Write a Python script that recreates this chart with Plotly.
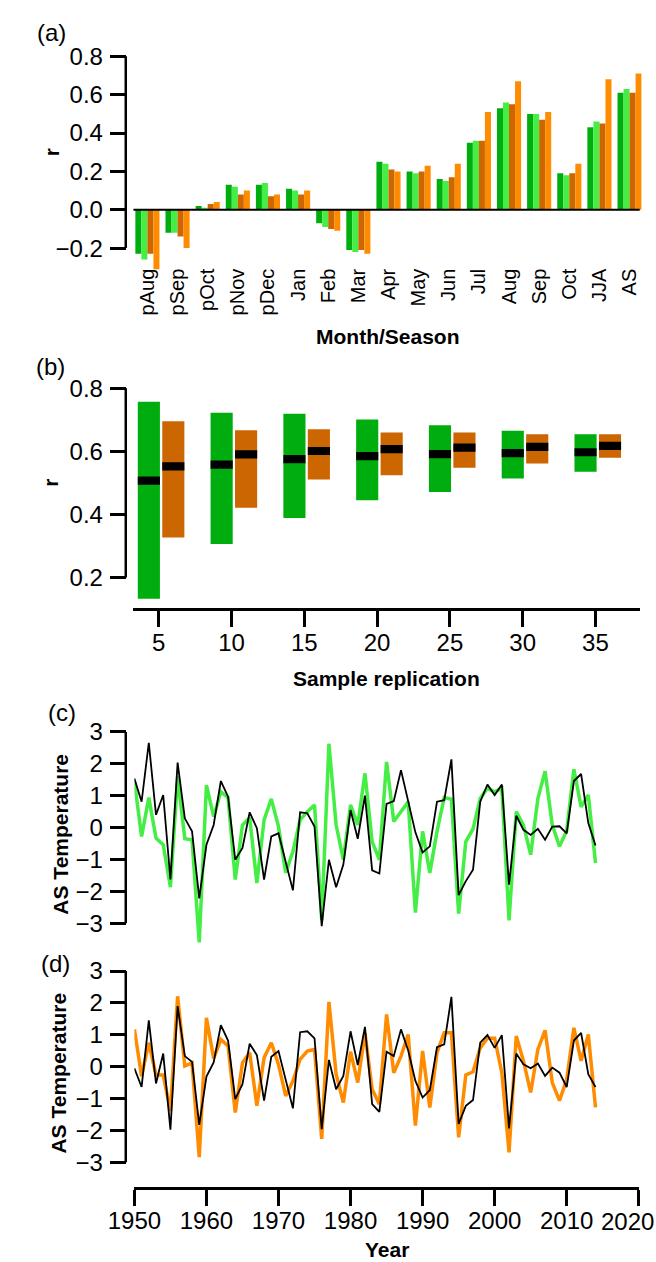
import plotly.graph_objects as go

# ---------------- data ----------------
months = ["pAug", "pSep", "pOct", "pNov", "pDec", "Jan", "Feb", "Mar", "Apr",
          "May", "Jun", "Jul", "Aug", "Sep", "Oct", "JJA", "AS"]
r_dark_green = [-0.23, -0.12, 0.02, 0.13, 0.13, 0.11, -0.07, -0.21, 0.25,
                0.20, 0.16, 0.35, 0.53, 0.50, 0.19, 0.43, 0.61]
r_light_green = [-0.26, -0.12, 0.005, 0.12, 0.14, 0.10, -0.09, -0.22, 0.24,
                 0.19, 0.15, 0.36, 0.56, 0.50, 0.18, 0.46, 0.63]
r_dark_orange = [-0.23, -0.14, 0.03, 0.08, 0.07, 0.08, -0.10, -0.21, 0.21,
                 0.20, 0.17, 0.36, 0.55, 0.47, 0.19, 0.45, 0.61]
r_orange = [-0.31, -0.20, 0.04, 0.10, 0.08, 0.10, -0.11, -0.23, 0.20,
            0.23, 0.24, 0.51, 0.67, 0.51, 0.24, 0.68, 0.71]

replication = [5, 10, 15, 20, 25, 30, 35]
green_low = [0.133, 0.306, 0.389, 0.445, 0.471, 0.514, 0.535]
green_high = [0.757, 0.722, 0.719, 0.701, 0.683, 0.665, 0.654]
green_med = [0.507, 0.558, 0.575, 0.585, 0.591, 0.594, 0.597]
orange_low = [0.327, 0.421, 0.511, 0.524, 0.548, 0.561, 0.580]
orange_high = [0.695, 0.667, 0.670, 0.660, 0.660, 0.654, 0.654]
orange_med = [0.552, 0.590, 0.601, 0.607, 0.612, 0.614, 0.617]

years = list(range(1950, 2015))
obs_c = [1.54, 0.81, 2.66, 0.40, 1.02, -1.63, 2.04, 0.29, -0.12, -2.22,
         -0.54, 0.08, 1.46, 0.97, -1.01, -0.64, 0.48, -0.02, -1.63, -0.28,
         -0.18, -1.06, -1.97, 0.48, 0.45, 0.03, -3.09, -1.01, -1.87, -1.16,
         0.55, -0.35, 1.00, -1.34, -1.44, 0.74, 0.83, 1.80, 0.81, -0.15,
         -0.78, -0.59, 0.81, 0.86, 2.14, -2.12, -1.68, -1.32, 0.81, 1.35,
         1.02, 1.35, -1.79, 0.37, -0.07, -0.23, -0.04, -0.38, 0.03, 0.04,
         -0.18, 1.46, 1.68, 0.14, -0.56]
rec_c = [1.45, -0.28, 0.94, -0.33, -0.54, -1.87, 1.60, -0.35, -0.38, -3.60,
         1.33, 0.34, 1.12, 0.94, -1.63, 0.08, 0.31, -1.74, 0.24, 0.90,
         0.03, -1.42, -0.75, 0.24, 0.50, 0.71, -2.90, 2.63, 0.08, -1.01,
         0.71, 0.08, 1.70, -0.44, -1.01, 2.06, 0.19, 0.50, 0.81, -2.67,
         -0.12, -1.42, -0.12, 0.94, 0.89, -2.70, -0.44, -0.04, 0.91, 1.23,
         1.12, 1.23, -2.91, 0.50, 0.08, -0.85, 0.91, 1.77, 0.08, -0.59,
         -0.10, 1.83, 0.65, 1.02, -1.11]
obs_d = [-0.05, -0.64, 1.45, -0.53, 0.41, -1.98, 1.90, 0.33, 0.15, -1.83,
         -0.31, 0.13, 1.30, 0.82, -1.02, -0.55, 0.72, 0.36, -1.07, 0.31,
         0.49, -0.43, -1.31, 1.08, 1.11, 0.89, -1.96, 0.21, -0.71, -0.29,
         1.11, 0.05, 1.25, -1.18, -1.42, 0.47, 0.33, 1.17, 0.51, -0.45,
         -0.97, -0.74, 0.61, 0.70, 2.19, -1.80, -1.23, -1.05, 0.75, 0.99,
         0.59, 0.99, -1.94, 0.41, 0.07, -0.05, 0.10, -0.29, -0.03, -0.19,
         -0.64, 0.82, 1.06, -0.24, -0.64]
rec_d = [1.17, -0.30, 0.75, -0.26, -0.26, -1.39, 2.21, 0.02, 0.12, -2.84,
         1.53, 0.26, 0.85, 0.65, -1.44, 0.12, 0.44, -1.23, 0.28, 0.75,
         0.07, -0.92, -0.45, 0.23, 0.49, 0.54, -2.27, 2.03, -0.24, -1.13,
         0.47, -0.50, 1.06, -0.71, -1.18, 1.64, -0.19, 0.33, 1.01, -1.85,
         0.49, -1.28, 0.44, 1.06, 1.06, -2.22, -0.26, -0.16, 0.59, 0.89,
         0.89, -0.19, -2.69, 0.96, 0.18, -0.81, 0.54, 1.14, -0.50, -1.07,
         -0.40, 1.22, 0.18, 1.01, -1.28]

r_ticks = [-0.2, 0.0, 0.2, 0.4, 0.6, 0.8]
r_ticks_b = [0.2, 0.4, 0.6, 0.8]
temp_ticks = [-3, -2, -1, 0, 1, 2, 3]
year_ticks = [1950, 1960, 1970, 1980, 1990, 2000, 2010, 2020]

# ---------------- style ----------------
W, H = 656, 1262
FONT = "Liberation Sans, Arial, Helvetica, sans-serif"
DG, LG, DO, OR = "#00AD0E", "#44EE44", "#CC6600", "#FF8C00"
AXW = 2.5


def px_x(p):
    return p / W


def px_y(p):
    return 1 - p / H


def fmt(v, nd=1):
    s = f"{abs(v):.{nd}f}" if nd else f"{abs(int(v))}"
    return ("\u2212" + s) if v < 0 else s


fig = go.Figure()

# (a) correlation bars
for vals, col in [(r_dark_green, DG), (r_light_green, LG),
                  (r_dark_orange, DO), (r_orange, OR)]:
    fig.add_trace(go.Bar(x=months, y=vals, marker=dict(color=col, line=dict(width=0)),
                         xaxis="x", yaxis="y", showlegend=False))

# (b) range boxes with median bars
BW, GOFF, OOFF, MT = 1.52, -1.44, 0.24, 0.026
fig.add_trace(go.Bar(x=replication, y=[h - l for h, l in zip(green_high, green_low)],
                     base=green_low, width=BW, offset=GOFF,
                     marker=dict(color=DG, line=dict(width=0)),
                     xaxis="x2", yaxis="y2", showlegend=False))
fig.add_trace(go.Bar(x=replication, y=[h - l for h, l in zip(orange_high, orange_low)],
                     base=orange_low, width=BW, offset=OOFF,
                     marker=dict(color=DO, line=dict(width=0)),
                     xaxis="x2", yaxis="y2", showlegend=False))
fig.add_trace(go.Bar(x=replication, y=[MT] * len(green_med),
                     base=[m - MT / 2 for m in green_med], width=BW, offset=GOFF,
                     marker=dict(color="black", line=dict(width=0)),
                     xaxis="x2", yaxis="y2", showlegend=False))
fig.add_trace(go.Bar(x=replication, y=[MT] * len(orange_med),
                     base=[m - MT / 2 for m in orange_med], width=BW, offset=OOFF,
                     marker=dict(color="black", line=dict(width=0)),
                     xaxis="x2", yaxis="y2", showlegend=False))

# (c), (d) time series
fig.add_trace(go.Scatter(x=years, y=rec_c, mode="lines", line=dict(color=LG, width=3.5),
                         xaxis="x3", yaxis="y3", showlegend=False))
fig.add_trace(go.Scatter(x=years, y=obs_c, mode="lines", line=dict(color="black", width=1.8),
                         xaxis="x3", yaxis="y3", showlegend=False))
fig.add_trace(go.Scatter(x=years, y=rec_d, mode="lines", line=dict(color=OR, width=3.5),
                         xaxis="x4", yaxis="y4", showlegend=False))
fig.add_trace(go.Scatter(x=years, y=obs_d, mode="lines", line=dict(color="black", width=1.8),
                         xaxis="x4", yaxis="y4", showlegend=False))

tickfont = dict(family=FONT, size=24, color="black")
yax_common = dict(anchor="free", position=px_x(103), showline=False, showgrid=False,
                  zeroline=False, ticks="outside", ticklen=16, tickwidth=AXW,
                  tickcolor="black", tickfont=tickfont, ticklabelstandoff=2)

# last year label is drawn as an annotation so it stays inside the page
year_text = [str(y) for y in year_ticks[:-1]] + [""]

layout = dict(
    width=W, height=H, margin=dict(l=0, r=0, t=0, b=0),
    paper_bgcolor="white", plot_bgcolor="white",
    barmode="group", bargap=0.2, bargroupgap=0,
    font=dict(family=FONT, color="black"),
    xaxis=dict(domain=[px_x(111), px_x(641)], range=[-0.464, 16.4], anchor="y",
               showline=False, showgrid=False, zeroline=False, ticks="",
               tickangle=-90, tickfont=dict(family=FONT, size=20, color="black"),
               ticklabelstandoff=-7),
    yaxis=dict(domain=[px_y(266), px_y(40)], range=[-0.318, 0.855],
               tickvals=r_ticks, ticktext=[fmt(v) for v in r_ticks], **yax_common),
    xaxis2=dict(domain=[px_x(111), px_x(639)], range=[3.26, 38.04], anchor="y2",
                showline=True, linewidth=AXW, linecolor="black", showgrid=False,
                zeroline=False, ticks="outside", ticklen=16, tickwidth=AXW,
                tickcolor="black", tickvals=replication, tickfont=tickfont,
                ticklabelstandoff=-5),
    yaxis2=dict(domain=[px_y(605), px_y(372)], range=[0.103, 0.838],
                tickvals=r_ticks_b, ticktext=[fmt(v) for v in r_ticks_b], **yax_common),
    xaxis3=dict(domain=[px_x(112), px_x(638)], range=[1950, 2020], anchor="y3",
                visible=False),
    yaxis3=dict(domain=[px_y(945), px_y(722)], range=[-3.73, 3.23],
                tickvals=temp_ticks, ticktext=[fmt(v, 0) for v in temp_ticks], **yax_common),
    xaxis4=dict(domain=[px_x(112), px_x(638)], range=[1950, 2020], anchor="y4",
                showline=True, linewidth=AXW, linecolor="black", showgrid=False,
                zeroline=False, ticks="outside", ticklen=16, tickwidth=AXW,
                tickcolor="black", tickvals=year_ticks, ticktext=year_text,
                tickfont=tickfont, ticklabelstandoff=-6),
    yaxis4=dict(domain=[px_y(1187), px_y(962)], range=[-3.79, 3.24],
                tickvals=temp_ticks, ticktext=[fmt(v, 0) for v in temp_ticks], **yax_common),
)
fig.update_layout(**layout)

# R-style axis lines spanning first to last tick
shapes = []
for yref, vals in [("y", r_ticks), ("y2", r_ticks_b), ("y3", temp_ticks), ("y4", temp_ticks)]:
    shapes.append(dict(type="line", xref="paper", yref=yref, x0=px_x(103), x1=px_x(103),
                       y0=min(vals), y1=max(vals), line=dict(color="black", width=AXW)))
# zero line in (a)
shapes.append(dict(type="line", xref="paper", yref="y", x0=px_x(111), x1=px_x(639),
                   y0=0, y1=0, line=dict(color="black", width=2.2)))
fig.update_layout(shapes=shapes)

annos = []


def anno(text, x, y, size, bold=False, angle=0):
    annos.append(dict(text=f"<b>{text}</b>" if bold else text, x=px_x(x), y=px_y(y),
                      xref="paper", yref="paper", xanchor="center", yanchor="middle",
                      showarrow=False, textangle=angle,
                      font=dict(family=FONT, size=size, color="black")))


anno("(a)", 26, 27, 24)
anno("(b)", 25, 362, 24)
anno("(c)", 36, 710, 24)
anno("(d)", 30, 962, 24)
anno("r", 25, 147, 21, bold=True, angle=-90)
anno("r", 25, 479, 21, bold=True, angle=-90)
anno("AS Temperature", 34, 832, 21, bold=True, angle=-90)
anno("AS Temperature", 33, 1072, 21, bold=True, angle=-90)
anno("Month/Season", 376, 332, 21, bold=True)
anno("Sample replication", 375, 676, 21, bold=True)
anno("Year", 375, 1249, 21, bold=True)
anno(str(year_ticks[-1]), 626, 1221, 24)
fig.update_layout(annotations=annos)

fig.write_html("out.html")
